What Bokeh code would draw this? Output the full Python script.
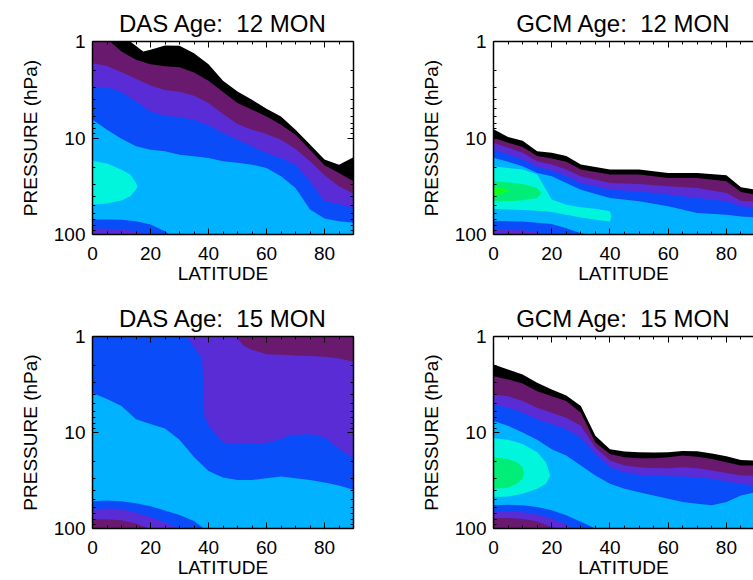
from bokeh.plotting import figure
from bokeh.layouts import column, row
from bokeh.models import Range1d, LinearAxis, LogAxis, FixedTicker, PrintfTickFormatter
from bokeh.embed import file_html
from bokeh.resources import INLINE

FONT = "Liberation Sans"
P_TOP, P_BOTTOM = 1.0, 100.0
LAT5 = [0, 5, 10, 15, 20, 25, 30, 35, 40, 45, 50, 55, 60, 65, 70, 75, 80, 85, 90]
FULL_LAT = [0, 90]
FULL_BOT = [P_BOTTOM, P_BOTTOM]
X_TICKS = [0, 20, 40, 60, 80]
X_MINOR = [0, 5, 10, 15, 20, 25, 30, 35, 40, 45, 50, 55, 60, 65, 70, 75, 80, 85, 90]
Y_TICKS = [1, 10, 100]
Y_MINOR = [2, 3, 4, 5, 6, 7, 8, 9, 20, 30, 40, 50, 60, 70, 80, 90]
TITLES = ["DAS Age:\u00a0 12 MON", "GCM Age:\u00a0 12 MON",
          "DAS Age:\u00a0 15 MON", "GCM Age:\u00a0 15 MON"]

COLORS = {
    "black": "#000000",
    "purple": "#691a6e",
    "violet": "#5a2cd6",
    "blue": "#0a4cf8",
    "sky": "#00b2ff",
    "cyan": "#00f5dc",
    "green": "#00ee78",
    "lime": "#10ff20",
}

# ---------------- DAS Age: 12 MON (pressure of contour boundaries, hPa) ----------------
das12_black_lat = [0, 13, 17.5, 20, 25, 30, 35, 40, 45, 50, 55, 60, 65, 70, 75, 80, 85, 90]
das12_black_top = [1.0, 1.0, 1.27, 1.22, 1.10, 1.11, 1.32, 1.72, 2.55, 3.29, 4.01, 4.97, 5.97, 8.2, 11.7, 16.7, 18.9, 15.8]
das12_purple_lat = [0, 6, 10, 15, 20, 25, 30, 35, 40, 45, 50, 55, 60, 65, 70, 75, 80, 85, 90]
das12_purple_top = [1.0, 1.0, 1.27, 1.55, 1.72, 1.80, 1.85, 2.09, 2.55, 3.34, 4.34, 5.09, 5.97, 7.28, 9.24, 13.2, 19.2, 23.0, 28.1]
das12_violet_top = [1.68, 1.79, 2.08, 2.43, 2.85, 3.19, 3.32, 3.65, 4.34, 5.65, 7.16, 8.2, 9.09, 10.4, 13.0, 17.4, 24.3, 31.6, 37.9]
das12_blue_top = [2.92, 2.99, 3.34, 4.18, 5.3, 5.87, 6.11, 6.46, 7.39, 8.88, 10.4, 12.2, 14.3, 16.1, 18.9, 28.1, 45.2, 48.2, 53.0]
das12_blue_bot_lat = [0, 5, 10, 15, 19, 90]
das12_blue_bot = [86.7, 87.4, 88.8, 92.4, 100, 100]
das12_sky_top = [6.46, 8.2, 10.2, 12.2, 13.2, 13.7, 14.9, 15.5, 16.1, 17.4, 18.1, 18.9, 20.4, 24.9, 32.9, 55.1, 68.2, 72.8, 75.7]
das12_sky_bot_lat = [0, 5, 10, 15, 20, 25, 26.5, 90]
das12_sky_bot = [70.0, 70.0, 70.5, 72.8, 78.8, 92.4, 100, 100]
das12_cyan_lat = [0, 5, 10, 13, 15, 15.5]
das12_cyan_top = [17.2, 18.4, 21.3, 23.9, 29.2, 31.6]
das12_cyan_bot = [49.0, 47.8, 44.5, 40.1, 34.2, 31.6]

# ---------------- GCM Age: 12 MON ----------------
gcm12_lat = [0, 5, 10, 15, 20, 25, 30, 40, 50, 60, 70, 80, 85, 90]
gcm12_black_top = [8.12, 9.77, 10.7, 13.7, 14.2, 15.4, 18.8, 21.2, 21.2, 23.0, 23.0, 24.3, 32.4, 34.3]
gcm12_purple_top = [9.93, 11.2, 12.4, 15.4, 16.3, 17.6, 21.2, 23.9, 23.9, 25.9, 25.9, 28.1, 36.2, 38.6]
gcm12_violet_top = [11.2, 12.6, 14.2, 17.4, 18.8, 21.2, 24.9, 29.2, 29.9, 31.6, 32.9, 37.1, 44.6, 45.3]
gcm12_blue_top = [13.1, 14.8, 16.7, 20.0, 21.7, 24.9, 29.2, 34.3, 35.6, 38.6, 41.9, 45.3, 51.1, 52.3]
gcm12_sky_top = [16.0, 17.6, 19.6, 23.0, 24.9, 29.2, 34.3, 41.9, 45.3, 51.1, 60.0, 62.4, 65.0, 66.5]
gcm12_blue_bot_lat = [0, 10, 15, 18, 90]
gcm12_blue_bot = [87.9, 90.1, 94.6, 100, 100]
gcm12_sky_bot_lat = [0, 10, 20, 25, 30, 32, 90]
gcm12_sky_bot = [72.1, 73.3, 78.0, 85.9, 96.9, 100, 100]
gcm12_cyan_lat = [0, 5, 10, 15, 20, 25, 30, 35, 40, 40.5]
gcm12_cyan_top = [19.6, 20.4, 21.2, 23.9, 43.5, 49.1, 52.3, 54.1, 57.5, 65.0]
gcm12_cyan_bot = [54.1, 55.0, 55.8, 56.6, 58.5, 62.4, 66.5, 70.3, 73.3, 65.0]
gcm12_green_lat = [0, 5, 10, 15, 16.5]
gcm12_green_top = [28.1, 28.7, 29.9, 32.9, 37.1]
gcm12_green_bot = [45.3, 45.3, 44.2, 41.9, 37.1]
gcm12_lime_lat = [0, 3, 5.5]
gcm12_lime_top = [31.9, 32.9, 35.1]
gcm12_lime_bot = [39.3, 38.0, 35.1]

# ---------------- DAS Age: 15 MON ----------------
das15_violet_lat = [0, 49.5, 52, 55, 60, 65, 70, 75, 80, 85, 90]
das15_violet_top = [1.0, 1.0, 1.24, 1.37, 1.53, 1.55, 1.58, 1.60, 1.63, 1.69, 1.83]
das15_violet_bot_lat = [0, 5, 10, 15, 19.4, 90]
das15_violet_bot = [80.2, 80.2, 82.2, 88.9, 100, 100]
das15_blue_lat = [0, 32.5, 35, 37.8, 38.6, 40, 42, 45, 48, 55, 60, 65, 68, 75, 80, 85, 90]
das15_blue_top = [1.0, 1.0, 1.29, 1.69, 6.72, 8.51, 9.96, 12.6, 13.1, 13.0, 12.8, 11.7, 10.6, 10.4, 11.2, 14.8, 18.7]
das15_blue_bot_lat = [0, 5, 10, 15, 20, 25, 29.8, 90]
das15_blue_bot = [63.4, 61.8, 62.8, 68.5, 75.9, 86.7, 100, 100]
das15_sky_top = [3.87, 4.47, 5.31, 7.27, 8.18, 9.06, 11.9, 18.0, 25.2, 29.5, 31.2, 31.2, 30.0, 28.8, 30.0, 31.2, 33.2, 35.7, 39.5]
das15_sky_bot_lat = [0, 5, 10, 15, 20, 25, 30, 35, 38.4, 90]
das15_sky_bot = [52.0, 51.2, 52.0, 54.5, 58.6, 64.9, 72.4, 83.4, 100, 100]

# ---------------- GCM Age: 15 MON ----------------
gcm15_black_top = [1.96, 2.21, 2.49, 3.04, 3.56, 4.11, 5.30, 10.8, 14.9, 15.8, 16.1, 16.2, 16.1, 15.6, 15.7, 16.5, 17.7, 19.3, 19.6]
gcm15_purple_top = [2.59, 2.81, 3.09, 3.71, 4.18, 4.70, 6.21, 12.7, 16.7, 18.1, 18.6, 18.6, 18.1, 17.4, 17.9, 18.9, 20.4, 22.1, 22.1]
gcm15_violet_top = [4.01, 4.18, 4.70, 5.51, 6.21, 7.00, 8.53, 14.3, 19.6, 22.1, 23.0, 23.4, 23.6, 23.0, 23.6, 24.9, 26.4, 28.1, 28.1]
gcm15_blue_top = [5.09, 5.51, 6.21, 7.28, 8.20, 9.24, 11.3, 16.7, 23.0, 25.9, 27.6, 28.1, 28.5, 28.8, 29.2, 30.4, 32.4, 34.2, 35.6]
gcm15_sky_top = [7.57, 8.53, 10.0, 11.9, 14.9, 17.4, 22.1, 28.1, 34.2, 38.6, 41.8, 45.2, 48.9, 53.0, 55.1, 57.4, 53.0, 45.2, 41.8]
gcm15_violet_bot_lat = [0, 5, 10, 15, 20, 22.2, 90]
gcm15_violet_bot = [77.6, 77.6, 79.4, 84.0, 96.8, 100, 100]
gcm15_blue_bot_lat = [0, 5, 10, 15, 20, 25, 27.3, 90]
gcm15_blue_bot = [67.3, 66.2, 67.8, 71.1, 78.8, 91.0, 100, 100]
gcm15_sky_bot_lat = [0, 5, 10, 15, 20, 25, 30, 35, 90]
gcm15_sky_bot = [57.4, 56.5, 57.4, 59.7, 64.6, 72.8, 85.3, 100, 100]
gcm15_cyan_lat = [0, 5, 10, 15, 18, 19.5]
gcm15_cyan_top = [11.5, 11.9, 13.2, 16.1, 20.4, 28.1]
gcm15_cyan_bot = [47.0, 46.3, 43.5, 38.6, 34.2, 28.1]
gcm15_green_lat = [0, 5, 8, 10, 10.5]
gcm15_green_top = [18.1, 18.9, 20.4, 23.0, 26.6]
gcm15_green_bot = [38.6, 37.6, 34.2, 30.4, 26.6]

# band = (colour, top lats, top pressures, bottom lats, bottom pressures); painted in order
das12_bands = [
    ("black", das12_black_lat, das12_black_top, FULL_LAT, FULL_BOT),
    ("purple", das12_purple_lat, das12_purple_top, FULL_LAT, FULL_BOT),
    ("violet", LAT5, das12_violet_top, FULL_LAT, FULL_BOT),
    ("blue", LAT5, das12_blue_top, das12_blue_bot_lat, das12_blue_bot),
    ("sky", LAT5, das12_sky_top, das12_sky_bot_lat, das12_sky_bot),
    ("cyan", das12_cyan_lat, das12_cyan_top, das12_cyan_lat, das12_cyan_bot),
]
gcm12_bands = [
    ("black", gcm12_lat, gcm12_black_top, FULL_LAT, FULL_BOT),
    ("purple", gcm12_lat, gcm12_purple_top, FULL_LAT, FULL_BOT),
    ("violet", gcm12_lat, gcm12_violet_top, FULL_LAT, FULL_BOT),
    ("blue", gcm12_lat, gcm12_blue_top, gcm12_blue_bot_lat, gcm12_blue_bot),
    ("sky", gcm12_lat, gcm12_sky_top, gcm12_sky_bot_lat, gcm12_sky_bot),
    ("cyan", gcm12_cyan_lat, gcm12_cyan_top, gcm12_cyan_lat, gcm12_cyan_bot),
    ("green", gcm12_green_lat, gcm12_green_top, gcm12_green_lat, gcm12_green_bot),
    ("lime", gcm12_lime_lat, gcm12_lime_top, gcm12_lime_lat, gcm12_lime_bot),
]
das15_bands = [
    ("purple", FULL_LAT, [P_TOP, P_TOP], FULL_LAT, FULL_BOT),
    ("violet", das15_violet_lat, das15_violet_top, das15_violet_bot_lat, das15_violet_bot),
    ("blue", das15_blue_lat, das15_blue_top, das15_blue_bot_lat, das15_blue_bot),
    ("sky", LAT5, das15_sky_top, das15_sky_bot_lat, das15_sky_bot),
]
gcm15_bands = [
    ("black", LAT5, gcm15_black_top, FULL_LAT, FULL_BOT),
    ("purple", LAT5, gcm15_purple_top, FULL_LAT, FULL_BOT),
    ("violet", LAT5, gcm15_violet_top, gcm15_violet_bot_lat, gcm15_violet_bot),
    ("blue", LAT5, gcm15_blue_top, gcm15_blue_bot_lat, gcm15_blue_bot),
    ("sky", LAT5, gcm15_sky_top, gcm15_sky_bot_lat, gcm15_sky_bot),
    ("cyan", gcm15_cyan_lat, gcm15_cyan_top, gcm15_cyan_lat, gcm15_cyan_bot),
    ("green", gcm15_green_lat, gcm15_green_top, gcm15_green_lat, gcm15_green_bot),
]


def style_axis(ax, labels):
    ax.axis_line_color = "black"
    ax.axis_line_width = 1.5
    ax.major_tick_line_color = "black"
    ax.major_tick_line_width = 1
    ax.major_tick_in = 6
    ax.major_tick_out = 0
    ax.minor_tick_line_color = "black"
    ax.minor_tick_line_width = 1
    ax.minor_tick_in = 3
    ax.minor_tick_out = 0
    ax.major_label_text_font = FONT
    ax.axis_label_text_font = FONT
    ax.axis_label_text_font_style = "normal"
    ax.axis_label_text_font_size = "19px"
    ax.axis_label_text_color = "black"
    if labels:
        ax.major_label_text_font_size = "19px"
        ax.major_label_text_color = "black"
    else:
        ax.major_label_text_font_size = "2px"
        ax.major_label_text_color = None
        ax.major_label_standoff = 0


def panel(title, bands, width, height, left, right, top, bottom, x_end, right_axis):
    p = figure(width=width, height=height, x_range=Range1d(0, x_end),
               y_range=Range1d(P_BOTTOM, P_TOP), y_axis_type="log",
               x_axis_location=None, y_axis_location=None,
               output_backend="svg", toolbar_location=None,
               min_border_left=left, min_border_right=right,
               min_border_top=top, min_border_bottom=bottom)
    p.outline_line_color = None
    p.background_fill_color = "white"
    p.border_fill_color = "white"
    p.xgrid.visible = False
    p.ygrid.visible = False
    for name, tlat, tp, blat, bp in bands:
        xs = list(tlat) + list(blat)[::-1]
        ys = list(tp) + list(bp)[::-1]
        p.patch(xs, ys, fill_color=COLORS[name], line_color=None)

    xt = FixedTicker(ticks=X_TICKS, minor_ticks=X_MINOR)
    yt = FixedTicker(ticks=Y_TICKS, minor_ticks=Y_MINOR)

    bx = LinearAxis(ticker=xt, axis_label="LATITUDE")
    style_axis(bx, True)
    bx.major_label_standoff = 12
    bx.axis_label_standoff = 0
    p.add_layout(bx, "below")

    tx = LinearAxis(ticker=xt)
    style_axis(tx, False)
    p.add_layout(tx, "above")

    ly = LogAxis(ticker=yt, axis_label="PRESSURE (hPa)",
                 formatter=PrintfTickFormatter(format="%d"))
    style_axis(ly, True)
    ly.major_label_standoff = 7
    ly.axis_label_standoff = 10
    p.add_layout(ly, "left")

    if right_axis:
        ry = LogAxis(ticker=yt)
        style_axis(ry, False)
        p.add_layout(ry, "right")

    p.title.text = title
    p.title.align = "center"
    p.title.text_font = FONT
    p.title.text_font_size = "24px"
    p.title.text_font_style = "normal"
    p.title.text_color = "black"
    p.title.standoff = 9
    return p


p1 = panel(TITLES[0], das12_bands, 376, 290, 92, 23, 40, 56, 90, True)
p2 = panel(TITLES[1], gcm12_bands, 377, 290, 117, 0, 41, 56, 89.3, False)
p3 = panel(TITLES[2], das15_bands, 376, 290, 92, 23, 46, 49, 90, True)
p4 = panel(TITLES[3], gcm15_bands, 377, 290, 117, 0, 46, 49, 89.3, False)

layout = column(row(p1, p2), row(p3, p4))
open("out.html", "w").write(file_html(layout, INLINE))
